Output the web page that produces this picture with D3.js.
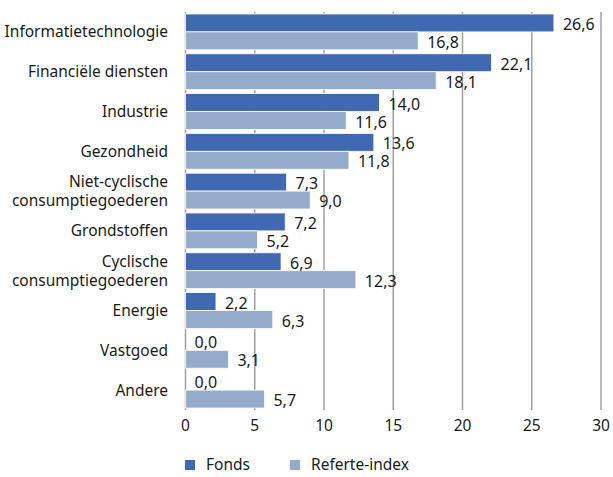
<!DOCTYPE html>
<html>
<head>
<meta charset="utf-8">
<script src="https://cdn.jsdelivr.net/npm/d3@7"></script>
<style>
  body { margin: 0; background: #fff; }
  text { font-family: "Noto Sans", "Open Sans", sans-serif; fill: #1a1a1a; }
</style>
</head>
<body>
<svg id="chart" width="613" height="477"></svg>
<script>
// data
var categories = [
    "Informatietechnologie",
    "Financiële diensten",
    "Industrie",
    "Gezondheid",
    "Niet-cyclische|consumptiegoederen",
    "Grondstoffen",
    "Cyclische|consumptiegoederen",
    "Energie",
    "Vastgoed",
    "Andere"
];
var fondsValues = [26.6, 22.1, 14.0, 13.6, 7.3, 7.2, 6.9, 2.2, 0.0, 0.0];
var indexValues = [16.8, 18.1, 11.6, 11.8, 9.0, 5.2, 12.3, 6.3, 3.1, 5.7];
var seriesNames = ["Fonds", "Referte-index"];
var tickValues = [0, 5, 10, 15, 20, 25, 30];

var colors = ["#4169b1", "#95abcc"];

var svg = d3.select("#chart");
var plot_left = 185.5, plot_right = 601, plot_top = 12, plot_bottom = 410;

var x = d3.scaleLinear().domain([0, 30]).range([plot_left, plot_right]);
var y = d3.scaleBand().domain(categories).range([plot_top, plot_bottom]).paddingInner(0.1).paddingOuter(0.05);
var sub = d3.scaleBand().domain(seriesNames).range([0, y.bandwidth()]);

// gridlines
svg.append("g")
    .selectAll("line")
    .data(tickValues)
    .enter()
    .append("line")
    .attr("x1", d => x(d))
    .attr("x2", d => x(d))
    .attr("y1", plot_top)
    .attr("y2", plot_bottom)
    .attr("stroke", "#a0a0a0")
    .attr("stroke-width", 1.5);

// bars
var rows = categories.map((c, i) => ({ cat: c, vals: [fondsValues[i], indexValues[i]] }));
var groups = svg.append("g")
    .selectAll("g")
    .data(rows)
    .enter()
    .append("g")
    .attr("transform", d => "translate(0," + y(d.cat) + ")");

groups.selectAll("rect")
    .data(d => d.vals.map((v, j) => ({ v: v, s: seriesNames[j], j: j })))
    .enter()
    .append("rect")
    .attr("x", x(0))
    .attr("y", d => sub(d.s))
    .attr("width", d => x(d.v) - x(0))
    .attr("height", sub.bandwidth())
    .attr("fill", d => colors[d.j])
    .attr("stroke", "#fff")
    .attr("stroke-width", 0.8);

// value labels
groups.selectAll("text.val")
    .data(d => d.vals.map((v, j) => ({ v: v, s: seriesNames[j], j: j })))
    .enter()
    .append("text")
    .attr("class", "val")
    .attr("x", d => x(d.v) + 9)
    .attr("y", d => sub(d.s) + sub.bandwidth() / 2 + 1.5)
    .attr("dy", "0.35em")
    .style("font-size", "16px")
    .text(d => d.v.toFixed(1).replace(".", ","));

// category labels
var yAxis = svg.append("g");
categories.forEach(function(c) {
    var lines = c.split("|");
    var cy = y(c) + y.bandwidth() / 2;
    var t = yAxis.append("text")
        .attr("text-anchor", "end")
        .style("font-size", "15.5px");
    lines.forEach(function(l, k) {
        t.append("tspan")
            .attr("x", 168)
            .attr("y", cy + (k - (lines.length - 1) / 2) * 19)
            .attr("dy", "0.35em")
            .text(l);
    });
});

// x axis tick labels
svg.append("g")
    .selectAll("text")
    .data(tickValues)
    .enter()
    .append("text")
    .attr("x", d => x(d))
    .attr("y", 426)
    .attr("dy", "0.35em")
    .attr("text-anchor", "middle")
    .style("font-size", "15.5px")
    .text(d => d);

// legend
var legendX = [185, 290];
var legend = svg.append("g")
    .selectAll("g")
    .data(seriesNames)
    .enter()
    .append("g")
    .attr("transform", (d, i) => "translate(" + legendX[i] + ",465)");
legend.append("rect")
    .attr("x", 0)
    .attr("y", -5)
    .attr("width", 10)
    .attr("height", 10)
    .attr("fill", (d, i) => colors[i]);
legend.append("text")
    .attr("x", 21)
    .attr("y", 0)
    .attr("dy", "0.35em")
    .style("font-size", "15.5px")
    .text(d => d);
</script>
</body>
</html>
